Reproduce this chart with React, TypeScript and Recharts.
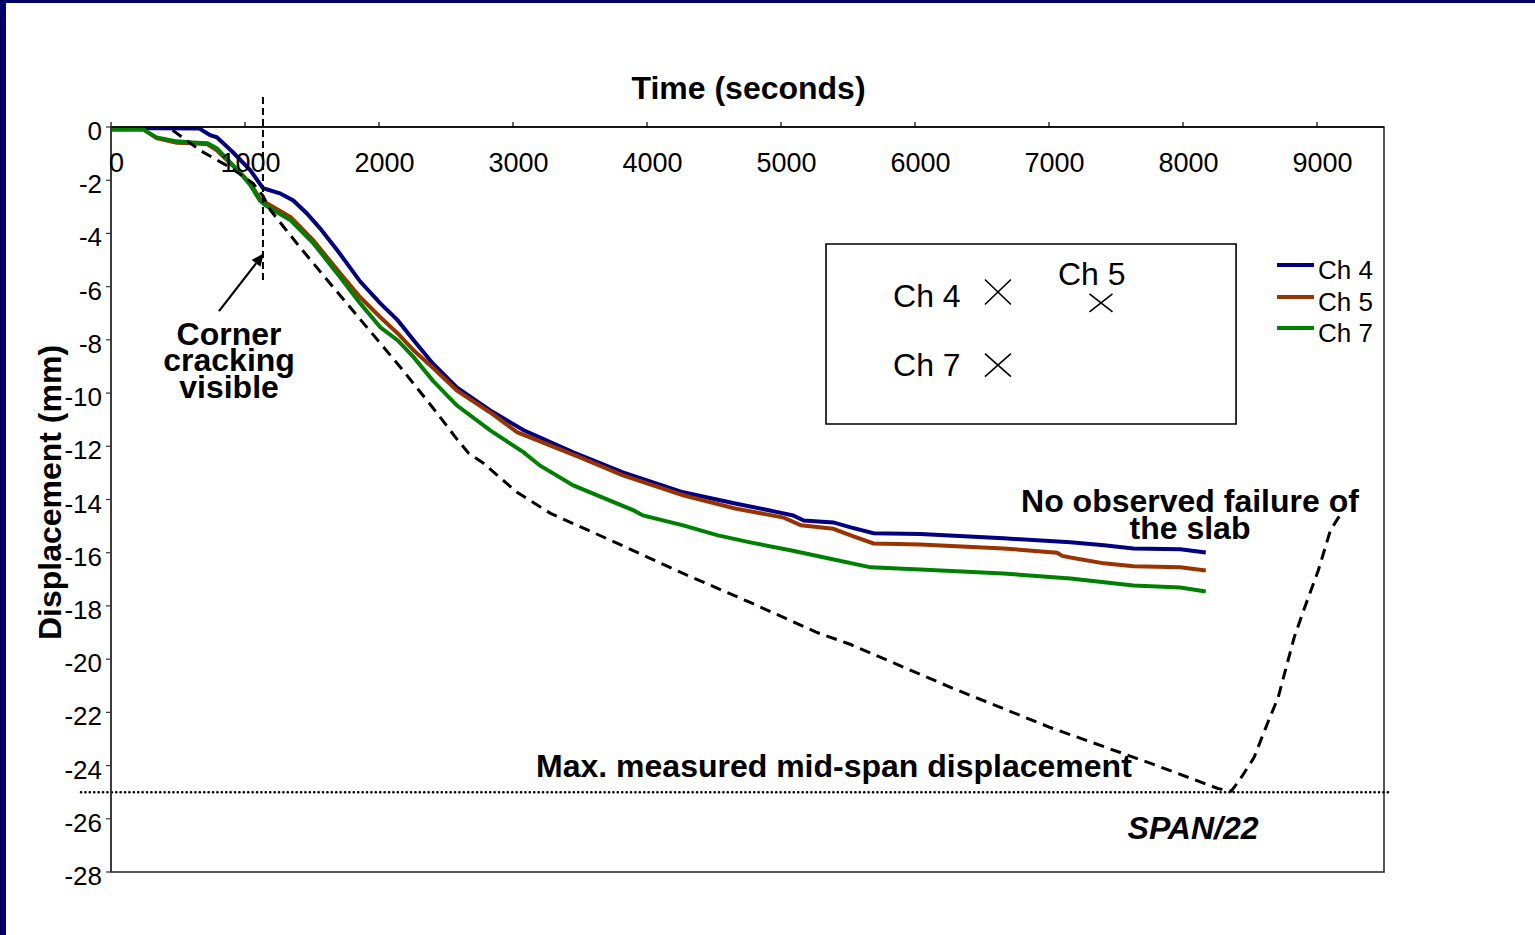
import React from 'react';
import {
  LineChart,
  Line,
  XAxis,
  YAxis,
  ReferenceLine,
  ReferenceArea,
  ReferenceDot,
  Legend,
} from 'recharts';

type Reading = [number, number]; // [time (s), displacement (mm)]

// Measured slab displacement, channels 4, 5 and 7
const ch4Readings: Reading[] = [
  [0, -0.04], [660, -0.06], [740, -0.31], [790, -0.39], [910, -0.95], [1040, -1.63],
  [1135, -2.3], [1260, -2.49], [1360, -2.76], [1460, -3.24], [1560, -3.81], [1690, -4.64],
  [1860, -5.81], [2010, -6.63], [2140, -7.27], [2260, -8.02], [2400, -8.88], [2580, -9.79],
  [2830, -10.65], [3080, -11.4], [3450, -12.23], [3820, -12.98], [4270, -13.73], [4650, -14.14],
  [5020, -14.52], [5090, -14.6], [5170, -14.79], [5390, -14.86], [5520, -15.05], [5690, -15.27],
  [6040, -15.3], [6660, -15.46], [7160, -15.61], [7410, -15.72], [7630, -15.84], [7980, -15.87],
  [8170, -15.99],
];

const ch5Readings: Reading[] = [
  [0, -0.09], [240, -0.09], [340, -0.42], [490, -0.59], [610, -0.61], [720, -0.65],
  [790, -0.88], [890, -1.36], [960, -1.7], [1040, -2.12], [1110, -2.68], [1150, -2.83],
  [1340, -3.39], [1510, -4.26], [1710, -5.5], [1860, -6.4], [2010, -7.15], [2140, -7.76],
  [2260, -8.4], [2400, -9.04], [2580, -9.9], [2830, -10.73], [3030, -11.47], [3500, -12.42],
  [3820, -13.09], [4270, -13.84], [4650, -14.33], [5020, -14.68], [5150, -14.97], [5390, -15.1],
  [5520, -15.35], [5690, -15.65], [6040, -15.69], [6660, -15.84], [7060, -16.0], [7100, -16.12],
  [7160, -16.18], [7410, -16.4], [7630, -16.51], [7980, -16.55], [8170, -16.67],
];

const ch7Readings: Reading[] = [
  [0, -0.09], [240, -0.09], [340, -0.39], [490, -0.54], [610, -0.58], [720, -0.61],
  [790, -0.8], [890, -1.33], [960, -1.7], [1040, -2.19], [1110, -2.76], [1150, -2.94],
  [1340, -3.51], [1510, -4.37], [1710, -5.65], [1860, -6.63], [2010, -7.53], [2140, -8.02],
  [2260, -8.66], [2400, -9.52], [2580, -10.46], [2830, -11.4], [3080, -12.23], [3200, -12.72],
  [3450, -13.47], [3900, -14.41], [3970, -14.6], [4270, -14.97], [4530, -15.35], [4770, -15.61],
  [5070, -15.91], [5350, -16.21], [5670, -16.55], [6040, -16.63], [6660, -16.78], [7160, -16.97],
  [7630, -17.23], [7980, -17.31], [8170, -17.46],
];

// Mid-span displacement trace (dashed)
const midSpanTrace: Reading[] = [
  [460, -0.12], [665, -0.88], [890, -1.52], [1060, -2.12], [1135, -2.6], [1190, -3.13],
  [1410, -4.52], [1660, -6.03], [1910, -7.53], [2160, -9.03], [2400, -10.54], [2580, -11.72],
  [2670, -12.27], [2780, -12.64], [3030, -13.73], [3280, -14.52], [3780, -15.65], [4270, -16.78],
  [4770, -17.87], [5270, -19.0], [5520, -19.45], [6270, -21.07], [7010, -22.57], [7760, -23.92],
  [8260, -24.86], [8360, -24.96], [8420, -24.56], [8530, -23.7], [8630, -22.42], [8710, -21.44],
  [8830, -19.18], [8900, -18.17], [9010, -16.66], [9100, -15.16], [9180, -14.52],
];

const timeTicks = [0, 1000, 2000, 3000, 4000, 5000, 6000, 7000, 8000, 9000];
const dispTicks = [0, -2, -4, -6, -8, -10, -12, -14, -16, -18, -20, -22, -24, -26, -28];

const SPAN_LIMIT = -25; // span/22
const CRACK_TIME = 1134;

const FONT = '"Liberation Sans", Arial, Helvetica, sans-serif';

const channels = [
  { name: 'Ch 4', color: '#000080', readings: ch4Readings },
  { name: 'Ch 5', color: '#993300', readings: ch5Readings },
  { name: 'Ch 7', color: '#008000', readings: ch7Readings },
];

const toRows = (readings: Reading[]) => readings.map(([t, d]) => ({ t, d }));

// Annotation text, anchored in data units
const notes = [
  { t: 881, d: -8.19, lines: ['Corner', 'cracking', 'visible'], anchor: 'middle', italic: false, bold: true, size: 32 },
  { t: 8052, d: -14.47, lines: ['No observed failure of', 'the slab'], anchor: 'middle', italic: false, bold: true, size: 32 },
  { t: 3172, d: -24.44, lines: ['Max. measured mid-span displacement'], anchor: 'start', italic: false, bold: true, size: 32 },
  { t: 8075, d: -26.76, lines: ['SPAN/22'], anchor: 'middle', italic: true, bold: true, size: 32 },
  { t: 5836, d: -6.77, lines: ['Ch 4'], anchor: 'start', italic: false, bold: false, size: 32 },
  { t: 7067, d: -5.94, lines: ['Ch 5'], anchor: 'start', italic: false, bold: false, size: 32 },
  { t: 5836, d: -9.36, lines: ['Ch 7'], anchor: 'start', italic: false, bold: false, size: 32 },
];

// Gauge position sketch: crosses inside the boxed inset
const gaugeCrosses = [
  { t: 6619, d: -6.2, hw: 13, hh: 12.5 },
  { t: 7388, d: -6.61, hw: 11.5, hh: 9 },
  { t: 6619, d: -8.95, hw: 13, hh: 11.5 },
];

const noteShape = (lines: string[], anchor: string, italic: boolean, bold: boolean, size: number) =>
  (p: any) => (
    <text
      x={p.cx}
      y={p.cy}
      textAnchor={anchor as any}
      fontFamily={FONT}
      fontSize={size}
      fontWeight={bold ? 700 : 400}
      fontStyle={italic ? 'italic' : 'normal'}
      fill="#000"
    >
      {lines.map((line, i) => (
        <tspan key={i} x={p.cx} dy={i === 0 ? 0 : 26.5}>
          {line}
        </tspan>
      ))}
    </text>
  );

const crossShape = (hw: number, hh: number) => (p: any) => (
  <path
    d={`M${p.cx - hw},${p.cy - hh}L${p.cx + hw},${p.cy + hh}M${p.cx + hw},${p.cy - hh}L${p.cx - hw},${p.cy + hh}`}
    stroke="#000"
    strokeWidth={1.6}
    fill="none"
  />
);

const arrowShape = (p: any) => {
  const { x1, y1, x2, y2 } = p;
  const ang = Math.atan2(y2 - y1, x2 - x1);
  const len = 13;
  const half = 5.5;
  const bx = x2 - len * Math.cos(ang);
  const by = y2 - len * Math.sin(ang);
  const nx = -Math.sin(ang) * half;
  const ny = Math.cos(ang) * half;
  return (
    <g>
      <line x1={x1} y1={y1} x2={bx} y2={by} stroke="#000" strokeWidth={2.2} />
      <polygon points={`${x2},${y2} ${bx + nx},${by + ny} ${bx - nx},${by - ny}`} fill="#000" />
    </g>
  );
};

const TimeTick = (props: any) => {
  const { x, y, payload } = props;
  return (
    <text x={x + 5.5} y={y + 50} textAnchor="middle" fontFamily={FONT} fontSize={27} fill="#000">
      {payload.value}
    </text>
  );
};

const DispTick = (props: any) => {
  const { x, y, payload } = props;
  return (
    <text x={x} y={y + 4} textAnchor="end" dominantBaseline="central" fontFamily={FONT} fontSize={26} fill="#000">
      {payload.value}
    </text>
  );
};

const TimeTitle = (props: any) => {
  const vb = props.viewBox || {};
  return (
    <text
      x={vb.x + vb.width / 2 + 1}
      y={vb.y + 12}
      textAnchor="middle"
      fontFamily={FONT}
      fontSize={32}
      fontWeight={700}
      fill="#000"
    >
      Time (seconds)
    </text>
  );
};

const DispTitle = (props: any) => {
  const vb = props.viewBox || {};
  const cx = vb.x + 20;
  const cy = vb.y + vb.height / 2 - 7;
  return (
    <text
      x={cx}
      y={cy}
      transform={`rotate(-90 ${cx} ${cy})`}
      textAnchor="middle"
      fontFamily={FONT}
      fontSize={32}
      fontWeight={700}
      fill="#000"
    >
      Displacement (mm)
    </text>
  );
};

const LegendBlock = (props: any) => {
  const payload = (props.payload || []).filter((e: any) => e.type !== 'none');
  return (
    <div style={{ position: 'relative', fontFamily: FONT, fontSize: 26, color: '#000' }}>
      {payload.map((entry: any) => (
        <div
          key={entry.value}
          style={{ position: 'relative', height: 31.5, lineHeight: '31.5px', paddingLeft: 41, whiteSpace: 'nowrap' }}
        >
          <span
            style={{ position: 'absolute', left: 0, top: 8.3, width: 37, height: 4, background: entry.color }}
          />
          {entry.value}
        </div>
      ))}
    </div>
  );
};

export default function App() {
  return (
    <div
      style={{
        position: 'absolute',
        left: 0,
        top: 0,
        width: 1535,
        height: 935,
        boxSizing: 'border-box',
        background: '#fff',
        borderLeft: '6px solid #000066',
        borderTop: '3px solid #000066',
      }}
    >
      <LineChart
        width={1529}
        height={932}
        margin={{ top: 84, right: 151, bottom: 63, left: 35 }}
        style={{ fontFamily: FONT }}
      >
        <XAxis
          type="number"
          dataKey="t"
          orientation="top"
          domain={[0, 9500]}
          ticks={timeTicks}
          height={40}
          tickSize={5}
          tickMargin={0}
          axisLine={{ stroke: '#000', strokeWidth: 1.5 }}
          tickLine={{ stroke: '#000', strokeWidth: 1.2 }}
          tick={<TimeTick />}
          label={{ content: TimeTitle }}
          allowDataOverflow
        />
        <YAxis
          type="number"
          domain={[-28, 0]}
          ticks={dispTicks}
          width={70}
          tickSize={5}
          tickMargin={4}
          axisLine={{ stroke: '#333', strokeWidth: 1.5 }}
          tickLine={{ stroke: '#333', strokeWidth: 1.2 }}
          tick={<DispTick />}
          label={{ content: DispTitle }}
          allowDataOverflow
        />

        {/* plot frame */}
        <ReferenceArea x1={0} x2={9500} y1={-28} y2={0} fill="none" stroke="#222" strokeWidth={1.5} ifOverflow="visible" />

        {/* boxed inset with gauge positions */}
        <ReferenceArea x1={5336} x2={8396} y1={-11.16} y2={-4.4} fill="#fff" fillOpacity={1} stroke="#000" strokeWidth={1.6} ifOverflow="visible" />

        {channels.map((c) => (
          <Line
            key={c.name}
            name={c.name}
            data={toRows(c.readings)}
            dataKey="d"
            type="linear"
            stroke={c.color}
            strokeWidth={4}
            dot={false}
            activeDot={false}
            isAnimationActive={false}
          />
        ))}

        <Line
          name="Mid-span"
          data={toRows(midSpanTrace)}
          dataKey="d"
          type="linear"
          stroke="#000"
          strokeWidth={3}
          strokeDasharray="11 7"
          dot={false}
          activeDot={false}
          legendType="none"
          isAnimationActive={false}
        />

        {/* span/22 limit */}
        <ReferenceLine
          segment={[{ x: -224, y: SPAN_LIMIT }, { x: 9537, y: SPAN_LIMIT }]}
          stroke="#000"
          strokeWidth={2.6}
          strokeDasharray="0.1 4.3"
          strokeLinecap="round"
          ifOverflow="visible"
        />

        {/* corner cracking marker */}
        <ReferenceLine
          segment={[{ x: CRACK_TIME, y: 1.13 }, { x: CRACK_TIME, y: -5.83 }]}
          stroke="#000"
          strokeWidth={2}
          strokeDasharray="7 4"
          ifOverflow="visible"
        />
        <ReferenceLine
          segment={[{ x: 806, y: -6.92 }, { x: 1142, y: -4.74 }]}
          ifOverflow="visible"
          shape={arrowShape}
        />

        {notes.map((n, i) => (
          <ReferenceDot
            key={`note-${i}`}
            x={n.t}
            y={n.d}
            r={0}
            ifOverflow="visible"
            shape={noteShape(n.lines, n.anchor, n.italic, n.bold, n.size)}
          />
        ))}

        {gaugeCrosses.map((g, i) => (
          <ReferenceDot
            key={`cross-${i}`}
            x={g.t}
            y={g.d}
            r={0}
            ifOverflow="visible"
            shape={crossShape(g.hw, g.hh)}
          />
        ))}

        <Legend
          layout="vertical"
          align="center"
          verticalAlign="middle"
          wrapperStyle={{ left: 1271, top: 252, width: 120 }}
          content={<LegendBlock />}
        />
      </LineChart>
    </div>
  );
}
